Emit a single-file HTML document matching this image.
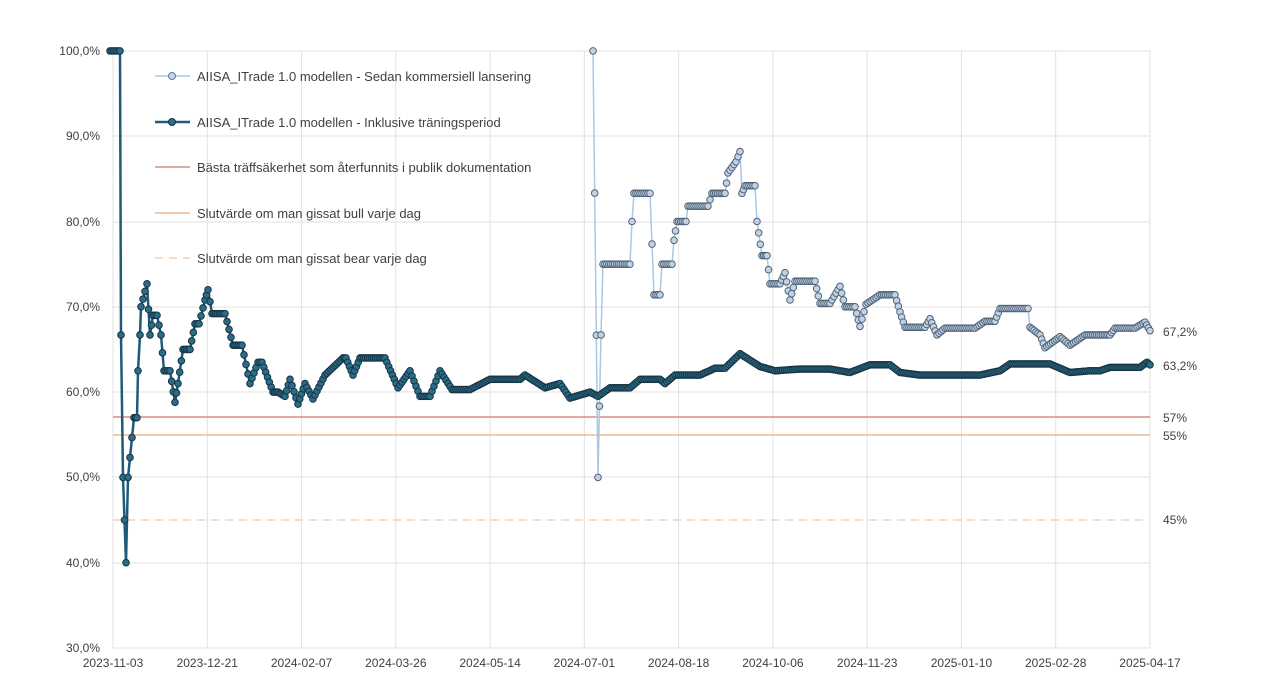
<!DOCTYPE html>
<html><head><meta charset="utf-8"><style>
html,body{margin:0;padding:0;background:#fff;}
svg{display:block;font-family:"Liberation Sans",sans-serif;}
</style></head><body>
<svg id="c" width="1270" height="686" xmlns="http://www.w3.org/2000/svg">
<g id="grid" stroke="#e2e2e2" stroke-width="1"></g>
<g font-size="12" fill="#404040" text-anchor="end">
<text x="100" y="55">100,0%</text><text x="100" y="140">90,0%</text><text x="100" y="226">80,0%</text>
<text x="100" y="311">70,0%</text><text x="100" y="396">60,0%</text><text x="100" y="481">50,0%</text>
<text x="100" y="567">40,0%</text><text x="100" y="652">30,0%</text>
</g>
<g id="xl" font-size="12" fill="#404040" text-anchor="middle"></g>
<line x1="113" y1="417" x2="1150" y2="417" stroke="#d98a8a" stroke-width="1.5"/>
<line x1="113" y1="435" x2="1150" y2="435" stroke="#f2b98e" stroke-width="1.5"/>
<line x1="113" y1="520" x2="1150" y2="520" stroke="#f6cfb0" stroke-width="1.5" stroke-dasharray="8,6"/>
<g font-size="12" fill="#404040">
<text x="1163" y="336">67,2%</text><text x="1163" y="370">63,2%</text>
<text x="1163" y="422">57%</text><text x="1163" y="440">55%</text><text x="1163" y="524">45%</text>
</g>
<g id="s1"></g><g id="s2"></g>
<g font-size="13" fill="#404040">
<line x1="155" y1="76" x2="190" y2="76" stroke="#a9c8e4" stroke-width="1.5"/><circle cx="172" cy="76" r="3.5" fill="#c9d6e6" stroke="#5a7a96"/>
<text x="197" y="81">AIISA_ITrade 1.0 modellen - Sedan kommersiell lansering</text>
<line x1="155" y1="122" x2="190" y2="122" stroke="#1f5a78" stroke-width="2.5"/><circle cx="172" cy="122" r="3.5" fill="#2b6c88" stroke="#163444"/>
<text x="197" y="127">AIISA_ITrade 1.0 modellen - Inklusive träningsperiod</text>
<line x1="155" y1="167" x2="190" y2="167" stroke="#d98a8a" stroke-width="1.5"/>
<text x="197" y="172">Bästa träffsäkerhet som återfunnits i publik dokumentation</text>
<line x1="155" y1="213" x2="190" y2="213" stroke="#f2b98e" stroke-width="1.5"/>
<text x="197" y="218">Slutvärde om man gissat bull varje dag</text>
<line x1="155" y1="258" x2="190" y2="258" stroke="#f6cfb0" stroke-width="1.5" stroke-dasharray="8,6"/>
<text x="197" y="263">Slutvärde om man gissat bear varje dag</text>
</g>
</svg>
<script>
var NS="http://www.w3.org/2000/svg";
function el(p,t,a){var e=document.createElementNS(NS,t);for(var k in a)e.setAttribute(k,a[k]);p.appendChild(e);return e;}
var g=document.getElementById('grid');
[51,136,222,307,392,477,563,648].forEach(function(y){el(g,'line',{x1:113,x2:1150,y1:y,y2:y});});
var labs=["2023-11-03","2023-12-21","2024-02-07","2024-03-26","2024-05-14","2024-07-01","2024-08-18","2024-10-06","2024-11-23","2025-01-10","2025-02-28","2025-04-17"];
var xl=document.getElementById('xl');
labs.forEach(function(l,i){var x=113+i*94.27;el(g,'line',{x1:x,x2:x,y1:51,y2:648});var t=el(xl,'text',{x:x,y:667});t.textContent=l;});
function Y(v){return 648-(v-30)*8.53;}
var dark=[[110,100],[120,100],[121,66.7],[123,50],[126,40],[128,50],[134,57],[137,57],[138,62.5],[140,66.7],[141,70],[147,72.7],[150,66.7],[153,69],[157,69],[161,66.7],[164,62.5],[170,62.5],[175,58.8],[178,61],[183,65],[190,65],[195,68],[199,68],[205,70.8],[208,72],[212,69.2],[225,69.2],[233,65.5],[242,65.5],[250,61],[258,63.5],[262,63.5],[273,60],[278,60],[285,59.5],[290,61.5],[298,58.6],[305,61],[313,59.2],[325,62],[343,64],[346,64],[353,62],[360,64],[385,64],[398,60.5],[410,62.5],[420,59.5],[430,59.5],[440,62.5],[452,60.3],[470,60.3],[490,61.5],[520,61.5],[525,62],[545,60.5],[560,61],[570,59.3],[590,60],[598,59.5],[610,60.5],[630,60.5],[640,61.5],[660,61.5],[665,61],[675,62],[700,62],[715,62.8],[725,62.8],[740,64.5],[760,63],[775,62.5],[800,62.7],[830,62.7],[850,62.3],[870,63.2],[890,63.2],[900,62.3],[920,62],[980,62],[1000,62.5],[1010,63.3],[1050,63.3],[1070,62.3],[1090,62.5],[1100,62.5],[1110,62.9],[1140,62.9],[1147,63.5],[1150,63.2]];
var light=[[593,100],[598,50],[601,66.7],[603,75],[630,75],[632,80],[634,83.3],[650,83.3],[654,71.4],[660,71.4],[662,75],[672,75],[674,77.8],[677,80],[686,80],[688,81.8],[708,81.8],[712,83.3],[725,83.3],[728,85.7],[736,87],[740,88.2],[742,83.3],[745,84.2],[755,84.2],[757,80],[762,76],[767,76],[770,72.7],[780,72.7],[785,74],[790,70.8],[795,73],[815,73],[820,70.4],[830,70.4],[840,72.4],[845,70],[855,70],[860,67.7],[866,70.3],[880,71.4],[895,71.4],[900,69.4],[905,67.6],[925,67.6],[930,68.6],[937,66.7],[945,67.5],[975,67.5],[985,68.3],[995,68.3],[1000,69.8],[1028,69.8],[1030,67.6],[1040,66.7],[1045,65.2],[1060,66.5],[1070,65.5],[1085,66.7],[1110,66.7],[1115,67.5],[1135,67.5],[1145,68.2],[1150,67.2]];
function draw(id,pts,lc,lw,fc,sc){
 var gg=document.getElementById(id);var d='';
 pts.forEach(function(p,i){d+=(i?'L':'M')+p[0]+','+Y(p[1]).toFixed(1);});
 el(gg,'path',{d:d,fill:'none',stroke:lc,'stroke-width':lw});
 for(var i=0;i<pts.length-1;i++){var a=pts[i],b=pts[i+1];var n=Math.max(1,Math.round((b[0]-a[0])/2));
  for(var j=0;j<n;j++){var t=j/n;el(gg,'circle',{cx:a[0]+(b[0]-a[0])*t,cy:Y(a[1]+(b[1]-a[1])*t),r:3.3,fill:fc,stroke:sc,'stroke-width':1});}}
 var l=pts[pts.length-1];el(gg,'circle',{cx:l[0],cy:Y(l[1]),r:3.3,fill:fc,stroke:sc});
}
draw('s1',light,'#a9c8e4',1.5,'#c2d2e4','#4f6478');
draw('s2',dark,'#1f5a78',2.5,'#2b6c88','#163444');
</script>
</body></html>
